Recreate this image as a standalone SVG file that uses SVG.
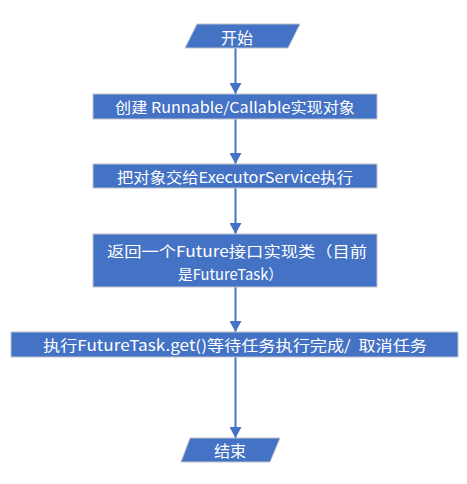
<svg xmlns="http://www.w3.org/2000/svg" width="467" height="484" viewBox="0 0 467 484">
<defs>
<style>
.box{fill:#4472C4;stroke:#BFC3CA;stroke-width:1}
.t{fill:#FFFFFF;font-family:"Noto Sans CJK SC","Liberation Sans",sans-serif;font-size:15px;text-anchor:middle;dominant-baseline:central}
.big{font-size:16px}
.c{stroke:#4472C4;stroke-width:2;fill:none}
</style>
<marker id="ah" markerWidth="12" markerHeight="12" refX="11" refY="6" orient="auto" markerUnits="userSpaceOnUse">
<path d="M0,0 L11,6 L0,12 Z" fill="#4472C4"/>
</marker>
</defs>
<rect width="467" height="484" fill="#FFFFFF"/>
<g id="connectors">
<line class="c" x1="235.5" y1="48" x2="235.5" y2="94" marker-end="url(#ah)"/>
<line class="c" x1="235.5" y1="119" x2="235.5" y2="164" marker-end="url(#ah)"/>
<line class="c" x1="235.5" y1="188" x2="235.5" y2="234" marker-end="url(#ah)"/>
<line class="c" x1="235.5" y1="287" x2="235.5" y2="332" marker-end="url(#ah)"/>
<line class="c" x1="235.5" y1="357" x2="235.5" y2="438" marker-end="url(#ah)"/>
</g>
<g id="start">
<polygon class="box" points="197,24 300,24 288,48 185,48"/>
<text class="t big" x="237" y="36.5">开始</text>
</g>
<g id="create">
<rect class="box" x="93" y="94" width="284" height="25"/>
<text class="t" x="235" y="106.5" textLength="240" lengthAdjust="spacingAndGlyphs">创建 Runnable/Callable实现对象</text>
</g>
<g id="submit">
<rect class="box" x="93" y="164" width="284" height="24"/>
<text class="t" x="235" y="176" textLength="236" lengthAdjust="spacingAndGlyphs">把对象交给ExecutorService执行</text>
</g>
<g id="future">
<rect class="box" x="93" y="234" width="284" height="53"/>
<text class="t" x="237" y="250" textLength="260" lengthAdjust="spacingAndGlyphs">返回一个Future接口实现类（目前</text>
<text class="t" x="230.5" y="273" textLength="105" lengthAdjust="spacingAndGlyphs">是FutureTask）</text>
</g>
<g id="get">
<rect class="box" x="11" y="332" width="447" height="25"/>
<text class="t" x="235" y="344.5" textLength="384" lengthAdjust="spacingAndGlyphs" xml:space="preserve">执行FutureTask.get()等待任务执行完成/  取消任务</text>
</g>
<g id="end">
<polygon class="box" points="190,438 280,438 270,462 181,462"/>
<text class="t big" x="230" y="450">结束</text>
</g>
</svg>
